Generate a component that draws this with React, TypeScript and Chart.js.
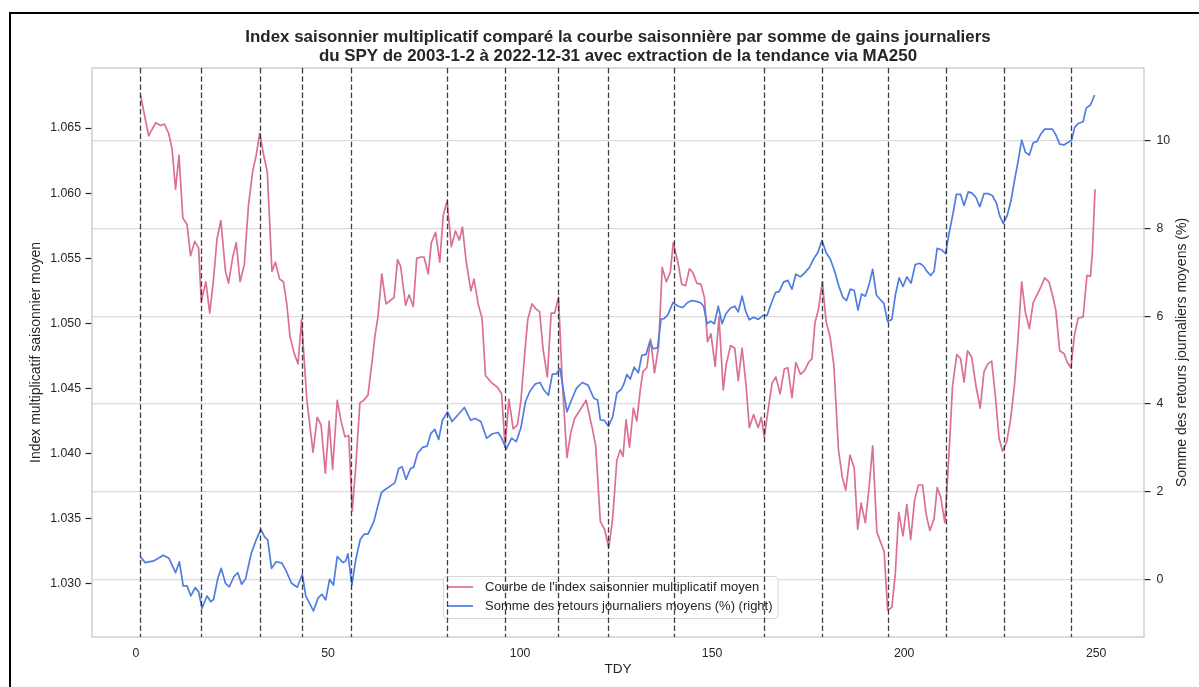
import { useEffect, useRef } from "react";
import { Chart, registerables } from "chart.js";

Chart.register(...registerables);

const FONT = '"Liberation Sans", Arial, Helvetica, sans-serif';
const INK = "#262626";
const PINK = "#db7093";
const BLUE = "#4f7de0";

const titleLines = [
  "Index saisonnier multiplicatif comparé la courbe saisonnière par somme de gains journaliers",
  "du SPY de 2003-1-2 à 2022-12-31 avec extraction de la tendance via MA250",
];
const xTitle = "TDY";
const leftTitle = "Index multiplicatif saisonnier moyen";
const rightTitle = "Somme des retours journaliers moyens (%)";
const indexLabel = "Courbe de l'index saisonnier multiplicatif moyen";
const sumLabel = "Somme des retours journaliers moyens (%) (right)";

// Seasonal multiplicative index (left axis)
const indexTdy = [
  1.2, 3.3, 5.1, 6.4, 7.4, 8.5, 9.4, 10.3, 11.2, 12.2, 13.3, 14.2, 15.3, 16.3, 17.0, 18.2, 19.2, 20.2,
  21.1, 22.1, 23.3, 24.1, 25.2, 26.1, 27.1, 28.2, 29.3, 30.4, 31.3, 32.2, 33.2, 34.2, 35.4, 36.3, 37.4,
  38.4, 39.3, 40.1, 41.2, 42.2, 43.1, 44.5, 46.1, 47.2, 48.2, 49.3, 50.3, 51.2, 52.4, 53.4, 54.4, 55.4,
  56.3, 57.2, 58.3, 59.3, 60.4, 61.6, 62.2, 63.0, 64.0, 65.1, 66.4, 67.2, 68.1, 68.9, 70.2, 71.1, 72.2,
  73.1, 74.2, 75.0, 76.1, 76.9, 78.0, 79.1, 80.0, 81.0, 82.1, 83.2, 84.2, 85.0, 86.0, 87.2, 88.0, 89.1,
  90.1, 91.0, 92.4, 94.1, 95.2, 96.1, 97.1, 98.2, 99.3, 100.2, 101.3, 102.0, 103.1, 104.2, 105.1, 106.0,
  107.1, 108.1, 109.0, 110.0, 111.0, 112.2, 113.2, 114.2, 115.7, 117.2, 118.7, 119.7, 120.9, 122.0,
  123.1, 124.1, 125.2, 126.1, 126.8, 127.6, 128.5, 129.5, 130.4, 131.3, 132.0, 133.0, 134.0, 135.0,
  136.1, 137.0, 138.1, 139.1, 139.9, 141.1, 142.1, 143.1, 144.1, 145.0, 146.0, 147.1, 148.0, 148.8,
  149.7, 150.8, 151.8, 152.9, 153.7, 154.8, 155.9, 156.8, 157.8, 158.8, 159.7, 160.8, 162.0, 162.8,
  163.6, 164.5, 165.6, 166.6, 167.7, 168.8, 169.7, 170.8, 171.8, 173.0, 174.1, 175.1, 176.0, 176.8,
  177.7, 178.7, 179.7, 180.7, 181.7, 182.9, 183.9, 184.8, 185.9, 187.0, 187.9, 188.8, 189.9, 190.9,
  191.8, 192.9, 194.0, 194.8, 195.7, 196.8, 197.7, 198.6, 199.7, 200.7, 201.7, 202.7, 203.7, 204.8,
  205.7, 206.7, 207.8, 208.6, 209.5, 210.6, 211.7, 212.6, 213.7, 214.7, 215.6, 216.5, 217.6, 218.7,
  219.8, 220.8, 221.8, 222.8, 223.8, 224.7, 225.6, 226.7, 227.7, 228.7, 229.6, 230.6, 231.6, 232.6,
  233.6, 234.6, 235.6, 236.6, 237.7, 238.6, 239.5, 240.5, 241.6, 242.5, 243.4, 244.4, 245.3, 246.6,
  247.6, 248.5, 249.0, 249.7,
];
const indexValues = [
  1.0675, 1.0644, 1.0654, 1.0652, 1.0653, 1.0646, 1.0634, 1.0603, 1.0629, 1.0581, 1.0576, 1.0552, 1.0563,
  1.0558, 1.0517, 1.0532, 1.0508, 1.0534, 1.0565, 1.0579, 1.054, 1.0531, 1.0551, 1.0562, 1.0532, 1.0545,
  1.0591, 1.0617, 1.0629, 1.0646, 1.063, 1.0616, 1.054, 1.0547, 1.0534, 1.0532, 1.0514, 1.049, 1.0477,
  1.0469, 1.0503, 1.0441, 1.0401, 1.0428, 1.0422, 1.0385, 1.0425, 1.0388, 1.0441, 1.0425, 1.0413, 1.0414,
  1.0356, 1.0389, 1.0439, 1.0441, 1.0445, 1.0474, 1.049, 1.0505, 1.0538, 1.0515, 1.0518, 1.052, 1.0549,
  1.0544, 1.0514, 1.0522, 1.0513, 1.055, 1.0551, 1.0551, 1.0538, 1.0562, 1.057, 1.0547, 1.0583, 1.0594,
  1.0559, 1.0571, 1.0564, 1.0574, 1.0547, 1.0525, 1.0534, 1.0515, 1.0504, 1.046, 1.0455, 1.0451, 1.0446,
  1.0405, 1.0442, 1.0419, 1.0422, 1.044, 1.048, 1.0503, 1.0515, 1.0511, 1.0509, 1.048, 1.0459, 1.0508,
  1.0508, 1.052, 1.0455, 1.0397, 1.0416, 1.0427, 1.0434, 1.0441, 1.0421, 1.0406, 1.0348, 1.0342, 1.0328,
  1.035, 1.0395, 1.0403, 1.0398, 1.0426, 1.0405, 1.0435, 1.0425, 1.0449, 1.0463, 1.0466, 1.0488, 1.0462,
  1.0483, 1.0543, 1.0532, 1.0539, 1.0562, 1.0547, 1.053, 1.0529, 1.0542, 1.0539, 1.0531, 1.053, 1.052,
  1.0486, 1.0492, 1.0467, 1.0505, 1.0449, 1.0469, 1.0483, 1.0481, 1.0456, 1.0481, 1.0454, 1.042, 1.043,
  1.042, 1.0428, 1.0413, 1.0432, 1.0454, 1.0459, 1.0446, 1.0465, 1.0466, 1.0443, 1.047, 1.0461, 1.0464,
  1.047, 1.0473, 1.0501, 1.0511, 1.0532, 1.0501, 1.049, 1.0468, 1.0403, 1.0382, 1.0372, 1.0399, 1.0389,
  1.0342, 1.0362, 1.0347, 1.0375, 1.0406, 1.034, 1.0331, 1.0325, 1.028, 1.0282, 1.0308, 1.0355, 1.0337,
  1.0361, 1.0334, 1.0364, 1.0376, 1.0376, 1.0354, 1.0341, 1.035, 1.0374, 1.0367, 1.0347, 1.0401, 1.0452,
  1.0476, 1.0473, 1.0455, 1.0479, 1.0474, 1.0452, 1.0435, 1.0463, 1.0469, 1.0471, 1.0443, 1.0412, 1.0402,
  1.0409, 1.0426, 1.0452, 1.0486, 1.0532, 1.0508, 1.0496, 1.0516, 1.0522, 1.0528, 1.0535, 1.0532, 1.0522,
  1.051, 1.0479, 1.0477, 1.047, 1.0466, 1.0492, 1.0504, 1.0505, 1.0537, 1.0536, 1.0554, 1.0603,
];

// Cumulative mean daily returns in % (right axis)
const sumTdy = [
  1.1, 2.4, 4.6, 7.1, 8.6, 10.3, 11.3, 12.3, 13.3, 14.3, 15.4, 16.3, 17.2, 18.5, 19.5, 20.2, 21.3, 22.2,
  23.3, 24.3, 25.5, 26.5, 27.5, 28.5, 30.0, 31.3, 32.5, 33.5, 34.3, 35.3, 36.5, 38.0, 39.0, 40.5, 42.0,
  43.3, 44.2, 45.2, 46.2, 47.4, 48.4, 49.4, 50.4, 51.4, 52.4, 53.9, 54.6, 55.2, 56.2, 57.2, 58.4, 59.4,
  60.4, 61.9, 63.9, 64.9, 65.9, 67.4, 68.4, 69.3, 70.3, 71.5, 72.3, 73.3, 74.6, 75.8, 76.8, 77.8, 78.8,
  79.8, 81.1, 82.3, 83.8, 85.5, 87.1, 88.3, 89.8, 91.3, 92.8, 94.3, 95.2, 96.4, 97.8, 99.0, 100.2, 101.4,
  102.5, 104.0, 105.2, 106.2, 107.4, 108.4, 109.4, 110.4, 111.2, 112.2, 113.2, 114.7, 116.2, 117.7,
  119.2, 120.2, 120.9, 122.0, 123.0, 124.1, 125.2, 126.3, 127.0, 127.8, 128.7, 129.7, 130.8, 131.7,
  132.8, 133.8, 134.7, 135.8, 136.7, 137.5, 138.4, 139.8, 141.2, 142.4, 143.5, 144.7, 145.9, 147.0,
  147.8, 148.7, 149.6, 150.6, 151.6, 152.6, 153.6, 154.8, 155.9, 156.8, 157.8, 158.8, 159.7, 160.8,
  162.0, 163.3, 164.3, 165.3, 166.5, 167.5, 168.6, 169.7, 170.8, 171.8, 173.0, 174.1, 175.3, 176.5,
  177.5, 178.6, 179.7, 180.8, 181.9, 183.0, 184.0, 185.0, 186.0, 187.0, 188.0, 188.9, 189.9, 190.9,
  191.8, 192.8, 194.0, 194.7, 195.7, 196.8, 197.7, 198.7, 199.7, 200.7, 201.8, 202.9, 204.0, 205.0,
  205.9, 206.9, 207.8, 208.6, 209.7, 210.8, 211.7, 212.8, 213.6, 214.7, 215.6, 216.7, 217.7, 218.7,
  219.7, 220.8, 221.9, 223.0, 224.0, 224.9, 225.8, 226.8, 227.8, 228.8, 229.7, 230.6, 231.6, 232.6,
  233.6, 234.6, 235.6, 236.6, 237.7, 238.6, 239.5, 240.5, 241.6, 242.5, 243.6, 244.4, 245.3, 246.6,
  247.4, 248.5, 249.6,
];
const sumValues = [
  0.52, 0.38, 0.42, 0.55, 0.48, 0.15, 0.4, -0.15, -0.15, -0.38, -0.19, -0.28, -0.66, -0.38, -0.51, -0.46,
  0.02, 0.25, -0.09, -0.17, 0.06, 0.15, -0.11, 0.0, 0.59, 0.9, 1.14, 0.97, 0.9, 0.25, 0.4, 0.37, 0.21,
  -0.09, -0.18, 0.11, -0.38, -0.55, -0.72, -0.43, -0.34, -0.47, 0.0, -0.13, 0.52, 0.38, 0.42, 0.58, -0.13,
  0.44, 0.91, 1.03, 1.03, 1.31, 1.98, 2.05, 2.11, 2.2, 2.53, 2.57, 2.28, 2.53, 2.56, 2.87, 3.01, 3.04,
  3.33, 3.42, 3.19, 3.63, 3.82, 3.6, 3.75, 3.92, 3.63, 3.67, 3.6, 3.22, 3.32, 3.35, 3.22, 2.97, 3.22, 3.14,
  3.45, 4.05, 4.28, 4.46, 4.49, 4.32, 4.2, 4.68, 4.68, 4.81, 4.36, 3.82, 4.05, 4.36, 4.49, 4.43, 4.13,
  4.09, 3.64, 3.62, 3.49, 3.7, 4.25, 4.33, 4.45, 4.67, 4.57, 4.84, 4.71, 5.11, 5.13, 5.43, 5.26, 5.28,
  5.93, 5.95, 6.02, 6.31, 6.23, 6.2, 6.31, 6.36, 6.34, 6.31, 6.23, 5.83, 5.89, 5.83, 6.23, 5.83, 6.06,
  6.19, 6.23, 6.1, 6.46, 6.1, 5.92, 5.98, 5.93, 6.02, 6.02, 6.27, 6.54, 6.57, 6.78, 6.82, 6.62, 6.96, 6.9,
  6.99, 7.11, 7.32, 7.45, 7.73, 7.45, 7.3, 7.03, 6.69, 6.44, 6.36, 6.62, 6.59, 6.14, 6.51, 6.46, 6.73,
  7.07, 6.48, 6.36, 6.3, 5.88, 5.93, 6.48, 6.88, 6.68, 6.9, 6.76, 7.18, 7.21, 7.15, 7.03, 6.93, 7.03,
  7.55, 7.52, 7.43, 7.89, 8.38, 8.78, 8.78, 8.53, 8.84, 8.81, 8.71, 8.5, 8.8, 8.8, 8.75, 8.59, 8.29, 8.12,
  8.29, 8.63, 9.13, 9.55, 10.02, 9.74, 9.68, 9.96, 9.99, 10.16, 10.27, 10.27, 10.27, 10.14, 9.93, 9.91,
  9.96, 10.02, 10.31, 10.4, 10.44, 10.75, 10.82, 11.05,
];

// Turning points marked with vertical dashed lines
const turningTdy = [1, 17, 32.2, 43.1, 56, 81, 96, 109.8, 123, 140.1, 163.4, 178.5, 195.8, 210.8, 225.9, 243.5];

const xTicks = [0, 50, 100, 150, 200, 250];
const indexTicks = [1.03, 1.035, 1.04, 1.045, 1.05, 1.055, 1.06, 1.065];
const sumTicks = [0, 2, 4, 6, 8, 10];

const decorPlugin = {
  id: "decor",
  beforeDatasetsDraw(chart: any) {
    const { ctx, chartArea: a } = chart;
    ctx.save();
    ctx.strokeStyle = "#cccccc";
    ctx.lineWidth = 1.4;
    ctx.strokeRect(a.left, a.top, a.right - a.left, a.bottom - a.top);
    ctx.restore();
  },
  afterDatasetsDraw(chart: any) {
    const { ctx, chartArea: a, scales } = chart;
    // legend box
    ctx.save();
    ctx.font = `13px ${FONT}`;
    const items = chart.data.datasets.map((d: any) => ({ label: d.label, color: d.borderColor }));
    const textW = Math.max(...items.map((it: any) => ctx.measureText(it.label).width));
    const x0 = a.left + 351;
    const y0 = a.bottom - 61;
    const w = 5 + 26 + 11 + textW + 5;
    const h = 42;
    ctx.beginPath();
    ctx.roundRect(x0 + 0.5, y0 + 0.5, w, h, 3);
    ctx.fillStyle = "rgba(255,255,255,0.8)";
    ctx.fill();
    ctx.strokeStyle = "rgba(204,204,204,0.8)";
    ctx.lineWidth = 1;
    ctx.stroke();
    items.forEach((it: any, i: number) => {
      const cy = y0 + 11 + i * 19;
      ctx.strokeStyle = it.color;
      ctx.lineWidth = 1.7;
      ctx.beginPath();
      ctx.moveTo(x0 + 4, cy);
      ctx.lineTo(x0 + 30, cy);
      ctx.stroke();
      ctx.fillStyle = INK;
      ctx.textAlign = "left";
      ctx.textBaseline = "middle";
      ctx.fillText(it.label, x0 + 42, cy + 0.5);
    });
    ctx.restore();

    // dashed turning-point markers
    ctx.save();
    ctx.strokeStyle = "rgba(30,30,30,0.85)";
    ctx.lineWidth = 1.3;
    ctx.setLineDash([5.5, 2.7]);
    turningTdy.forEach((t) => {
      const px = Math.round(scales.x.getPixelForValue(t)) + 0.5;
      ctx.beginPath();
      ctx.moveTo(px, a.top);
      ctx.lineTo(px, a.bottom);
      ctx.stroke();
    });
    ctx.restore();
  },
  afterDraw(chart: any) {
    const { ctx, chartArea: a } = chart;
    const cx = (a.left + a.right) / 2;
    const cy = (a.top + a.bottom) / 2;
    ctx.save();
    ctx.fillStyle = INK;
    ctx.textAlign = "center";
    ctx.textBaseline = "alphabetic";
    ctx.font = `bold 16.9px ${FONT}`;
    ctx.fillText(titleLines[0], cx, 42);
    ctx.fillText(titleLines[1], cx, 60.5);

    ctx.font = `13.6px ${FONT}`;
    ctx.textBaseline = "middle";
    ctx.fillText(xTitle, cx, 669);

    ctx.font = `14px ${FONT}`;
    ctx.save();
    ctx.translate(36.5, cy);
    ctx.rotate(-Math.PI / 2);
    ctx.fillText(leftTitle, 0, 0);
    ctx.restore();

    ctx.save();
    ctx.translate(1182, cy);
    ctx.rotate(-Math.PI / 2);
    ctx.fillText(rightTitle, 0, 0);
    ctx.restore();

    // outer frame
    ctx.fillStyle = "#000";
    ctx.fillRect(9, 12, chart.width - 9, 2);
    ctx.fillRect(9, 12, 2, chart.height - 12);
    ctx.restore();
  },
};

export default function App() {
  const ref = useRef<HTMLCanvasElement | null>(null);

  useEffect(() => {
    if (!ref.current) return;
    const tickFont = { family: FONT, size: 12.3 };
    const chart = new Chart(ref.current, {
      type: "line",
      data: {
        datasets: [
          {
            label: indexLabel,
            data: indexTdy.map((x, i) => ({ x, y: indexValues[i] })),
            borderColor: PINK,
            borderWidth: 1.7,
            pointRadius: 0,
            tension: 0,
            borderJoinStyle: "round",
            yAxisID: "yIdx",
            order: 1,
          },
          {
            label: sumLabel,
            data: sumTdy.map((x, i) => ({ x, y: sumValues[i] })),
            borderColor: BLUE,
            borderWidth: 1.7,
            pointRadius: 0,
            tension: 0,
            borderJoinStyle: "round",
            yAxisID: "ySum",
            order: 0,
          },
        ],
      },
      options: {
        animation: false,
        responsive: false,
        devicePixelRatio: 1,
        events: [],
        layout: { padding: { top: 68, left: 0, right: 0, bottom: 0 } },
        plugins: { legend: { display: false }, title: { display: false }, tooltip: { enabled: false } },
        scales: {
          x: {
            type: "linear",
            position: "bottom",
            min: -11.45,
            max: 262.45,
            afterFit: (s: any) => {
              s.height = 50;
            },
            afterBuildTicks: (s: any) => {
              s.ticks = xTicks.map((v) => ({ value: v }));
            },
            grid: { display: false, drawTicks: false },
            border: { display: false },
            ticks: { font: tickFont, color: INK, padding: 9, maxRotation: 0, callback: (v: any) => String(v) },
          },
          yIdx: {
            type: "linear",
            position: "left",
            min: 1.02593,
            max: 1.06961,
            afterFit: (s: any) => {
              s.width = 92;
            },
            afterBuildTicks: (s: any) => {
              s.ticks = indexTicks.map((v) => ({ value: v }));
            },
            grid: { drawOnChartArea: false, drawTicks: true, tickLength: 6.5, tickColor: INK, tickWidth: 1.2 },
            border: { display: false },
            ticks: { font: tickFont, color: INK, padding: 4.5, callback: (v: any) => Number(v).toFixed(3) },
          },
          ySum: {
            type: "linear",
            position: "right",
            min: -1.316,
            max: 11.665,
            afterFit: (s: any) => {
              s.width = 55;
            },
            afterBuildTicks: (s: any) => {
              s.ticks = sumTicks.map((v) => ({ value: v }));
            },
            grid: {
              drawOnChartArea: true,
              color: "#dcdcdc",
              lineWidth: 1.2,
              drawTicks: true,
              tickLength: 6.5,
              tickColor: INK,
              tickWidth: 1.2,
            },
            border: { display: false },
            ticks: { font: tickFont, color: INK, padding: 6, callback: (v: any) => String(v) },
          },
        },
      },
      plugins: [decorPlugin],
    });
    return () => chart.destroy();
  }, []);

  return (
    <div style={{ position: "fixed", left: 0, top: 0, width: 1199, height: 687, background: "#fff" }}>
      <canvas ref={ref} width={1199} height={687} style={{ display: "block", width: 1199, height: 687 }} />
    </div>
  );
}
